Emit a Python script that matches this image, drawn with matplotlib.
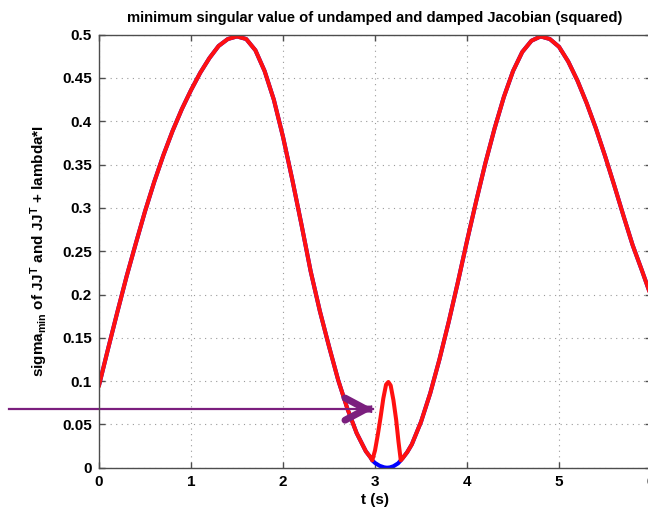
import matplotlib
matplotlib.use("Agg")
import matplotlib.pyplot as plt
import numpy as np

# minimum singular value (squared)
t_undamped = [0.0, 0.1, 0.2, 0.3, 0.4, 0.5, 0.6, 0.7, 0.8, 0.9,
              1.0, 1.1, 1.2, 1.3, 1.4, 1.5, 1.6, 1.7, 1.8, 1.9,
              2.0, 2.1, 2.2, 2.3, 2.4, 2.5, 2.6, 2.7, 2.8, 2.9,
              2.95, 2.97, 3.0, 3.05, 3.1, 3.13, 3.16, 3.2, 3.25, 3.28,
              3.3, 3.35, 3.4, 3.5, 3.6, 3.7, 3.8, 3.9,
              4.0, 4.1, 4.2, 4.3, 4.4, 4.5, 4.6, 4.7, 4.8, 4.9,
              5.0, 5.1, 5.2, 5.3, 5.4, 5.5, 5.6, 5.7, 5.8, 5.9, 6.0]
s_undamped = [0.095, 0.138, 0.180, 0.221, 0.259, 0.296, 0.330, 0.361, 0.389, 0.414,
              0.436, 0.456, 0.473, 0.487, 0.495, 0.498, 0.495, 0.482, 0.458, 0.425,
              0.382, 0.333, 0.281, 0.227, 0.181, 0.140, 0.101, 0.068, 0.040, 0.019,
              0.012, 0.0085, 0.0055, 0.0022, 0.0004, 0.0, 0.0003, 0.0017, 0.005, 0.0085,
              0.011, 0.018, 0.027, 0.053, 0.086, 0.125, 0.168, 0.214,
              0.262, 0.308, 0.352, 0.392, 0.428, 0.458, 0.480, 0.493, 0.498, 0.495,
              0.486, 0.469, 0.447, 0.421, 0.392, 0.360, 0.326, 0.291, 0.257, 0.228, 0.198]

# damped version differs only around the singularity
t_bump = [2.97, 3.0, 3.03, 3.06, 3.09, 3.12, 3.145, 3.17, 3.2, 3.23, 3.255, 3.28]
s_bump = [0.0085, 0.020, 0.038, 0.058, 0.080, 0.096, 0.099, 0.095, 0.078, 0.055, 0.030, 0.0085]

arrow_y = 0.0677
arrow_tip = 2.98
arrow_tail = -0.98

purple = "#7b1f7e"
axis_gray = "#4d4d4d"

matplotlib.rcParams['font.family'] = ['Liberation Sans', 'DejaVu Sans']
matplotlib.rcParams['font.weight'] = 'bold'
matplotlib.rcParams['mathtext.fontset'] = 'custom'
matplotlib.rcParams['mathtext.rm'] = 'Liberation Sans:bold'
matplotlib.rcParams['mathtext.bf'] = 'Liberation Sans:bold'
matplotlib.rcParams['mathtext.default'] = 'bf'

fig = plt.figure(figsize=(6.48, 5.11), dpi=100)
ax = fig.add_axes([0.1528, 0.0847, 0.8519, 0.8474])

t_u = np.array(t_undamped)
s_u = np.array(s_undamped)
left = t_u < t_bump[0]
right = t_u > t_bump[-1]
t_d = np.concatenate([t_u[left], t_bump, t_u[right]])
s_d = np.concatenate([s_u[left], s_bump, s_u[right]])

ax.plot(t_u, s_u, color='#0000ff', lw=2.9, solid_capstyle='round')
ax.plot(t_d, s_d, color='#ff1010', lw=2.9, solid_joinstyle='round')

ax.set_xlim(0, 6)
ax.set_ylim(0, 0.5)
ax.set_xticks(np.arange(0, 7, 1))
ax.set_yticks(np.arange(0, 0.51, 0.05))
ax.set_yticklabels(['0', '0.05', '0.1', '0.15', '0.2', '0.25', '0.3', '0.35', '0.4', '0.45', '0.5'])

ax.grid(True, color='#9a9a9a', linestyle=(0, (1, 4)), lw=0.8)
ax.tick_params(direction='in', length=4, width=1, color=axis_gray, top=True, right=True,
               labelsize=11, pad=5)
for sp in ax.spines.values():
    sp.set_color(axis_gray)
    sp.set_linewidth(1.0)

ax.set_title('minimum singular value of undamped and damped Jacobian (squared)',
             fontsize=10.6, fontweight='bold', pad=9)
ax.set_xlabel('t (s)', fontsize=11, fontweight='bold', labelpad=3)
ax.set_ylabel(r'sigma$_{\rm min}$ of JJ$^{\rm T}$ and JJ$^{\rm T}$ + lambda*I',
              fontsize=11, fontweight='bold', labelpad=9)

# arrow pointing at the damped bump
ax.plot([arrow_tail, arrow_tip], [arrow_y, arrow_y], color=purple, lw=1.6, clip_on=False)
ax.annotate('', xy=(arrow_tip, arrow_y), xytext=(-1, 0), textcoords='offset points',
            xycoords='data',
            arrowprops=dict(arrowstyle='->,head_length=0.75,head_width=0.4',
                            mutation_scale=20, color=purple, lw=5.0,
                            shrinkA=0, shrinkB=0, joinstyle='miter', capstyle='round'),
            annotation_clip=False)

fig.savefig('out.png', dpi=100)
